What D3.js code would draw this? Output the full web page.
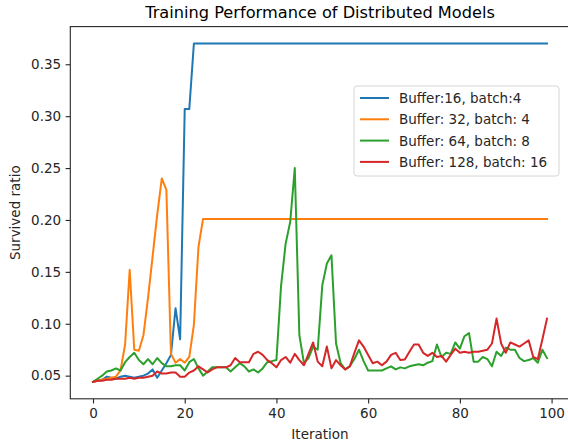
<!DOCTYPE html>
<html>
<head>
<meta charset="utf-8">
<script src="https://cdn.jsdelivr.net/npm/d3@7"></script>
<style>
  body { margin: 0; background: #fff; }
  svg { font-family: "DejaVu Sans", sans-serif; }
  .tick text { font-size: 13.5px; fill: #262626; }
  .tick line { stroke: #262626; }
</style>
</head>
<body>
<svg id="svg1" width="568" height="444"></svg>
<script>
//data
var seriesNames = ["Buffer:16, batch:4", "Buffer: 32, batch: 4", "Buffer: 64, batch: 8", "Buffer: 128, batch: 16"];
var seriesColours = ["#1f77b4", "#ff7f0e", "#2ca02c", "#d62728"];

var buffer16 = [0.044, 0.045, 0.046, 0.049, 0.048, 0.047, 0.049, 0.050, 0.049, 0.048,
  0.049, 0.050, 0.052, 0.056, 0.048, 0.055, 0.062, 0.070, 0.115, 0.085,
  0.307, 0.307, 0.370, 0.370, 0.370, 0.370, 0.370, 0.370, 0.370, 0.370,
  0.370, 0.370, 0.370, 0.370, 0.370, 0.370, 0.370, 0.370, 0.370, 0.370,
  0.370, 0.370, 0.370, 0.370, 0.370, 0.370, 0.370, 0.370, 0.370, 0.370,
  0.370, 0.370, 0.370, 0.370, 0.370, 0.370, 0.370, 0.370, 0.370, 0.370,
  0.370, 0.370, 0.370, 0.370, 0.370, 0.370, 0.370, 0.370, 0.370, 0.370,
  0.370, 0.370, 0.370, 0.370, 0.370, 0.370, 0.370, 0.370, 0.370, 0.370,
  0.370, 0.370, 0.370, 0.370, 0.370, 0.370, 0.370, 0.370, 0.370, 0.370,
  0.370, 0.370, 0.370, 0.370, 0.370, 0.370, 0.370, 0.370, 0.370, 0.370];

var buffer32 = [0.044, 0.045, 0.046, 0.047, 0.048, 0.049, 0.055, 0.080, 0.152, 0.075,
  0.074, 0.089, 0.125, 0.165, 0.205, 0.240, 0.229, 0.071, 0.0625, 0.066,
  0.0625, 0.068, 0.099, 0.174, 0.201, 0.201, 0.201, 0.201, 0.201, 0.201,
  0.201, 0.201, 0.201, 0.201, 0.201, 0.201, 0.201, 0.201, 0.201, 0.201,
  0.201, 0.201, 0.201, 0.201, 0.201, 0.201, 0.201, 0.201, 0.201, 0.201,
  0.201, 0.201, 0.201, 0.201, 0.201, 0.201, 0.201, 0.201, 0.201, 0.201,
  0.201, 0.201, 0.201, 0.201, 0.201, 0.201, 0.201, 0.201, 0.201, 0.201,
  0.201, 0.201, 0.201, 0.201, 0.201, 0.201, 0.201, 0.201, 0.201, 0.201,
  0.201, 0.201, 0.201, 0.201, 0.201, 0.201, 0.201, 0.201, 0.201, 0.201,
  0.201, 0.201, 0.201, 0.201, 0.201, 0.201, 0.201, 0.201, 0.201, 0.201];

var buffer64 = [0.044, 0.047, 0.050, 0.054, 0.055, 0.057, 0.055, 0.063, 0.068, 0.072,
  0.065, 0.061, 0.066, 0.061, 0.067, 0.062, 0.059, 0.059, 0.060, 0.060,
  0.055, 0.063, 0.066, 0.057, 0.050, 0.054, 0.058, 0.058, 0.058, 0.058,
  0.054, 0.058, 0.062, 0.059, 0.054, 0.056, 0.053, 0.057, 0.063, 0.064,
  0.065, 0.136, 0.177, 0.198, 0.250, 0.089, 0.062, 0.067, 0.078, 0.075,
  0.137, 0.158, 0.166, 0.081, 0.062, 0.056, 0.059, 0.066, 0.075, 0.064,
  0.055, 0.055, 0.055, 0.055, 0.057, 0.059, 0.056, 0.058, 0.057, 0.059,
  0.060, 0.061, 0.060, 0.0625, 0.064, 0.080, 0.068, 0.072, 0.071, 0.082,
  0.076, 0.088, 0.091, 0.0635, 0.0635, 0.068, 0.066, 0.059, 0.073, 0.069,
  0.077, 0.075, 0.075, 0.067, 0.064, 0.065, 0.067, 0.0625, 0.075, 0.067];

var buffer128 = [0.044, 0.045, 0.045, 0.046, 0.046, 0.047, 0.047, 0.047, 0.048, 0.047,
  0.048, 0.048, 0.049, 0.050, 0.054, 0.052, 0.052, 0.053, 0.053, 0.049,
  0.049, 0.053, 0.055, 0.059, 0.056, 0.053, 0.056, 0.058, 0.058, 0.058,
  0.060, 0.067, 0.063, 0.063, 0.063, 0.071, 0.073, 0.070, 0.065, 0.062,
  0.058, 0.065, 0.068, 0.0625, 0.071, 0.065, 0.060, 0.071, 0.082, 0.0635,
  0.059, 0.078, 0.057, 0.065, 0.060, 0.056, 0.059, 0.072, 0.084, 0.078,
  0.070, 0.062, 0.0635, 0.060, 0.0635, 0.070, 0.072, 0.065, 0.0655, 0.073,
  0.080, 0.080, 0.072, 0.069, 0.072, 0.068, 0.069, 0.0635, 0.070, 0.076,
  0.072, 0.073, 0.072, 0.073, 0.073, 0.074, 0.075, 0.081, 0.105, 0.081,
  0.072, 0.082, 0.080, 0.078, 0.081, 0.084, 0.068, 0.066, 0.085, 0.105];

var xTicks = [0, 20, 40, 60, 80, 100];
var yTicks = [0.05, 0.10, 0.15, 0.20, 0.25, 0.30, 0.35];

var allSeries = [buffer16, buffer32, buffer64, buffer128];

//set up constants
var plotLeft = 70.3;
var plotRight = 569.7;
var plotTop = 26.6;
var plotBottom = 398.8;

var svg = d3.select("#svg1");

//matplotlib style 5% margins round the data
var iterationExtent = [0, buffer16.length - 1];
var valueExtent = d3.extent(d3.merge(allSeries));
var xPad = (iterationExtent[1] - iterationExtent[0]) * 0.05;
var yPad = (valueExtent[1] - valueExtent[0]) * 0.05;

var xScale = d3.scaleLinear()
    .domain([iterationExtent[0] - xPad, iterationExtent[1] + xPad])
    .range([plotLeft, plotRight]);
var yScale = d3.scaleLinear()
    .domain([valueExtent[0] - yPad, valueExtent[1] + yPad])
    .range([plotBottom, plotTop]);

//LINES
var line = d3.line()
    .x(function(d, i) { return xScale(i); })
    .y(function(d) { return yScale(d); });

svg.append("g")
    .selectAll("path")
    .data(allSeries)
    .enter()
    .append("path")
        .attr("d", line)
        .attr("fill", "none")
        .attr("stroke", function(d, i) { return seriesColours[i]; })
        .attr("stroke-width", 2)
        .attr("stroke-linejoin", "round")
        .attr("stroke-linecap", "square");

//FRAME
svg.append("rect")
    .attr("x", plotLeft)
    .attr("y", plotTop)
    .attr("width", plotRight - plotLeft)
    .attr("height", plotBottom - plotTop)
    .attr("fill", "none")
    .attr("stroke", "#262626")
    .attr("stroke-width", 1.1);

//AXES
var x_axis = d3.axisBottom(xScale)
    .tickValues(xTicks)
    .tickSize(4.7)
    .tickPadding(4.5)
    .tickSizeOuter(0);
var y_axis = d3.axisLeft(yScale)
    .tickValues(yTicks)
    .tickFormat(d3.format(".2f"))
    .tickSize(4.7)
    .tickPadding(4.5)
    .tickSizeOuter(0);

svg.append("g")
    .attr("class", "xAxis")
    .attr("transform", "translate(0," + plotBottom + ")")
    .call(x_axis)
    .call(function(g) { g.select(".domain").remove(); });

svg.append("g")
    .attr("class", "yAxis")
    .attr("transform", "translate(" + plotLeft + ",0)")
    .call(y_axis)
    .call(function(g) { g.select(".domain").remove(); });

svg.selectAll(".tick line").attr("stroke-width", 1.1);
svg.selectAll(".tick text").attr("font-family", "DejaVu Sans");

//LABELS
svg.append("text")
    .attr("x", (plotLeft + plotRight) / 2)
    .attr("y", 18)
    .attr("text-anchor", "middle")
    .style("font-size", "16.2px")
    .style("fill", "#000")
    .text("Training Performance of Distributed Models");

svg.append("text")
    .attr("x", (plotLeft + plotRight) / 2)
    .attr("y", 439)
    .attr("text-anchor", "middle")
    .style("font-size", "13.5px")
    .style("fill", "#262626")
    .text("Iteration");

svg.append("text")
    .attr("transform", "translate(20," + ((plotTop + plotBottom) / 2) + ") rotate(-90)")
    .attr("text-anchor", "middle")
    .style("font-size", "13.5px")
    .style("fill", "#262626")
    .text("Survived ratio");

//LEGEND
var legend = svg.append("g")
    .attr("transform", "translate(354,86)");

legend.append("rect")
    .attr("width", 205)
    .attr("height", 90)
    .attr("rx", 3)
    .attr("fill", "#fff")
    .attr("fill-opacity", 0.8)
    .attr("stroke", "#d6d6d6")
    .attr("stroke-width", 1);

var legendRows = legend.selectAll(".legendRow")
    .data(seriesNames)
    .enter()
    .append("g")
    .attr("class", "legendRow")
    .attr("transform", function(d, i) { return "translate(0," + (12 + i * 21.3) + ")"; });

legendRows.append("line")
    .attr("x1", 6)
    .attr("x2", 35)
    .attr("stroke", function(d, i) { return seriesColours[i]; })
    .attr("stroke-width", 2);

legendRows.append("text")
    .attr("x", 45)
    .attr("y", 5)
    .style("font-size", "13.5px")
    .style("fill", "#262626")
    .text(function(d) { return d; });
</script>
</body>
</html>
